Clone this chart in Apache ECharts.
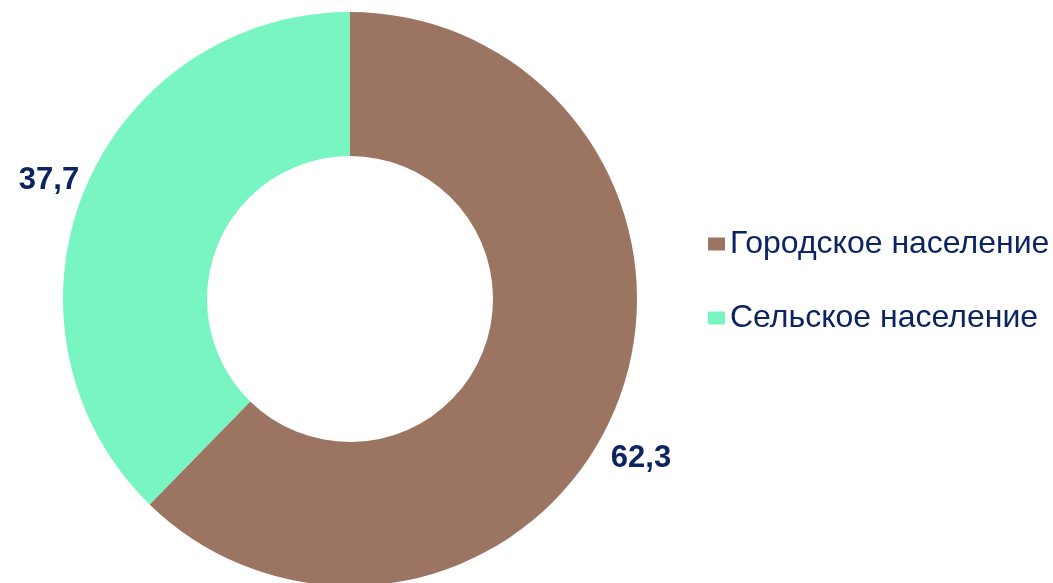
<!DOCTYPE html>
<html>
<head>
<meta charset="utf-8">
<script src="https://cdn.jsdelivr.net/npm/echarts@6/dist/echarts.min.js"></script>
<style>
  html, body { margin: 0; padding: 0; background: #fff; }
  #chart { width: 1053px; height: 583px; }
</style>
</head>
<body>
<div id="chart"></div>
<script>
var categories = ['Городское население', 'Сельское население'];
var values = [62.3, 37.7];
var colors = ['#9c7462', '#78f5c0'];

var myChart = echarts.init(document.getElementById('chart'));

var data = [];
for (var i = 0; i < categories.length; i++) {
  data.push({ name: categories[i], value: values[i], itemStyle: { color: colors[i] } });
}

// сдвиг подписей как на оригинале
var labelShift = [[-10, 51], [0, -10]];

var option = {
  animation: false,
  legend: {
    orient: 'vertical',
    left: 703,
    top: 223,
    itemWidth: 17,
    itemHeight: 13,
    itemGap: 42,
    icon: 'rect',
    textStyle: { fontFamily: 'Liberation Sans', fontSize: 32, lineHeight: 32, color: '#0c2461' },
    data: categories
  },
  series: [{
    type: 'pie',
    center: [350, 299],
    radius: [143, 287],
    startAngle: 90,
    clockwise: true,
    label: {
      show: true,
      position: 'outside',
      formatter: function (p) { return String(p.value).replace('.', ','); },
      fontFamily: 'Liberation Sans',
      fontWeight: 'bold',
      fontSize: 31,
      color: '#0c2461'
    },
    labelLine: { show: false, length: 0, length2: 0 },
    labelLayout: function (params) {
      var s = labelShift[params.dataIndex];
      return { dx: s[0], dy: s[1] };
    },
    data: data
  }]
};

myChart.setOption(option);
</script>
</body>
</html>
